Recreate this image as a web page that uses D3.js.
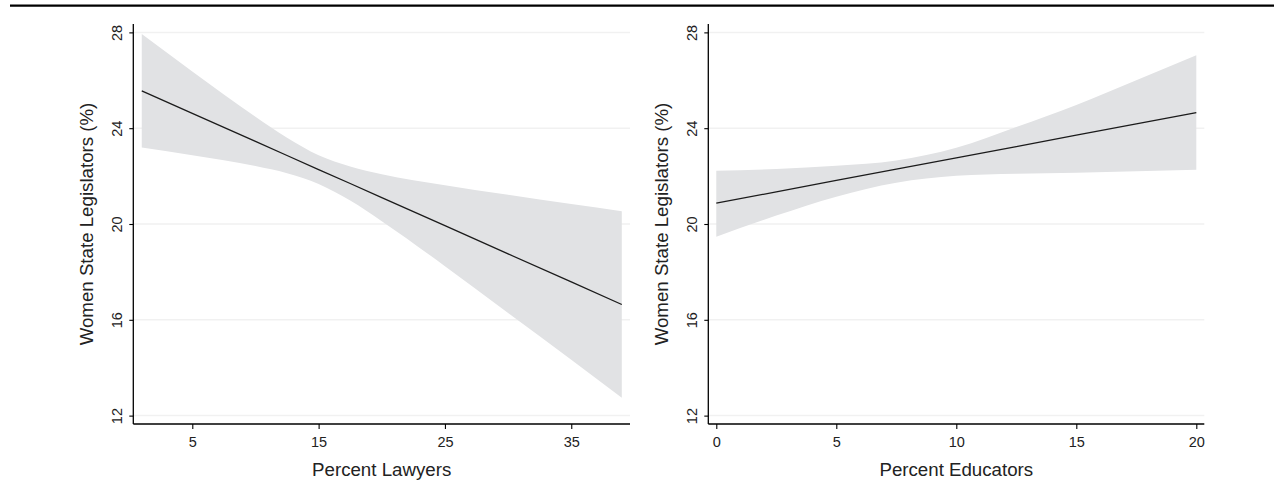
<!DOCTYPE html>
<html>
<head>
<meta charset="utf-8">
<script src="https://cdn.jsdelivr.net/npm/d3@7"></script>
<style>
  body { margin: 0; background: #fff; }
  svg { display: block; font-family: "Liberation Sans", Arial, Helvetica, sans-serif; }
</style>
</head>
<body>
<svg width="1284" height="493"></svg>
<script>
// values
const yTicks = [12, 16, 20, 24, 28];
const yTitle = "Women State Legislators (%)";

const lawyerX     = [1, 5, 10, 12.5, 15, 17.5, 20, 25, 30, 35, 39];
const lawyerFit   = [25.56, 24.62, 23.45, 22.86, 22.27, 21.69, 21.10, 19.93, 18.75, 17.58, 16.64];
const lawyerUpper = [27.93, 26.37, 24.48, 23.60, 22.87, 22.40, 22.08, 21.62, 21.22, 20.83, 20.53];
const lawyerLower = [23.19, 22.87, 22.42, 22.12, 21.67, 20.98, 20.12, 18.24, 16.28, 14.33, 12.75];
const lawyerTicks = [5, 15, 25, 35];

const eduX     = [0, 2.5, 5, 7.5, 10, 12.5, 15, 17.5, 20];
const eduFit   = [20.87, 21.34, 21.82, 22.29, 22.76, 23.23, 23.71, 24.18, 24.65];
const eduUpper = [22.22, 22.30, 22.43, 22.65, 23.18, 24.05, 24.97, 26.00, 27.05];
const eduLower = [19.47, 20.35, 21.14, 21.72, 22.01, 22.10, 22.14, 22.20, 22.26];
const eduTicks = [0, 5, 10, 15, 20];

const svg = d3.select("svg");

// rule along the top
svg.append("line")
  .attr("x1", 10).attr("x2", 1274)
  .attr("y1", 5.7).attr("y2", 5.7)
  .attr("stroke", "#000").attr("stroke-width", 2.2);

const plotTop = 24, plotBottom = 424;
const y = d3.scaleLinear().domain([11.65, 28.35]).range([plotBottom, plotTop]);

const drawPanel = (opts) => {
  const x = d3.scaleLinear().domain(opts.domain).range(opts.range);
  const [left, right] = opts.range;
  const g = svg.append("g");

  // grid
  g.append("g").selectAll("line")
    .data(yTicks)
    .enter().append("line")
    .attr("x1", left).attr("x2", right)
    .attr("y1", d => y(d)).attr("y2", d => y(d))
    .attr("stroke", "#f1f1f1")
    .attr("stroke-width", 1.5);

  const rows = opts.xs.map((v, i) => ({ x: v, fit: opts.fit[i], hi: opts.upper[i], lo: opts.lower[i] }));

  const area = d3.area()
    .x(d => x(d.x))
    .y0(d => y(d.lo))
    .y1(d => y(d.hi))
    .curve(d3.curveMonotoneX);

  g.append("path")
    .datum(rows)
    .attr("d", area)
    .attr("fill", "#e1e2e4");

  const line = d3.line()
    .x(d => x(d.x))
    .y(d => y(d.fit));

  g.append("path")
    .datum(rows)
    .attr("d", line)
    .attr("fill", "none")
    .attr("stroke", "#1b1b1b")
    .attr("stroke-width", 1.3);

  // y axis
  const yAxis = g.append("g")
    .attr("transform", `translate(${left},0)`)
    .call(d3.axisLeft(y).tickValues(yTicks).tickSize(4).tickPadding(0).tickFormat(d3.format("d")));
  yAxis.select(".domain").attr("d", `M0,${plotTop}V${plotBottom}`).attr("stroke-width", 1.3);
  yAxis.selectAll(".tick line").attr("stroke-width", 1.1);
  yAxis.selectAll(".tick text")
    .attr("x", null).attr("dy", null)
    .attr("transform", "translate(-11,0) rotate(-90)")
    .attr("text-anchor", "middle")
    .attr("fill", "#222")
    .style("font-size", "14.5px");

  // x axis
  const xAxis = g.append("g")
    .attr("transform", `translate(0,${plotBottom})`)
    .call(d3.axisBottom(x).tickValues(opts.ticks).tickSize(5).tickPadding(0).tickFormat(d3.format("d")));
  xAxis.select(".domain").attr("d", `M${left},0H${right}`).attr("stroke-width", 1.3);
  xAxis.selectAll(".tick line").attr("stroke-width", 1.1);
  xAxis.selectAll(".tick text")
    .attr("dy", null)
    .attr("y", 23)
    .attr("fill", "#222")
    .style("font-size", "14.5px");

  // titles
  g.append("text")
    .attr("x", (left + right) / 2)
    .attr("y", 475.5)
    .attr("text-anchor", "middle")
    .attr("fill", "#222")
    .style("font-size", "18.7px")
    .text(opts.xTitle);

  g.append("text")
    .attr("transform", `translate(${left - 40},${(plotTop + plotBottom) / 2}) rotate(-90)`)
    .attr("text-anchor", "middle")
    .attr("fill", "#222")
    .style("font-size", "18.7px")
    .text(yTitle);
};

drawPanel({
  domain: [0.33, 39.65], range: [133.3, 630],
  xs: lawyerX, fit: lawyerFit, upper: lawyerUpper, lower: lawyerLower,
  ticks: lawyerTicks, xTitle: "Percent Lawyers"
});

drawPanel({
  domain: [-0.333, 20.333], range: [708.3, 1204.3],
  xs: eduX, fit: eduFit, upper: eduUpper, lower: eduLower,
  ticks: eduTicks, xTitle: "Percent Educators"
});
</script>
</body>
</html>
